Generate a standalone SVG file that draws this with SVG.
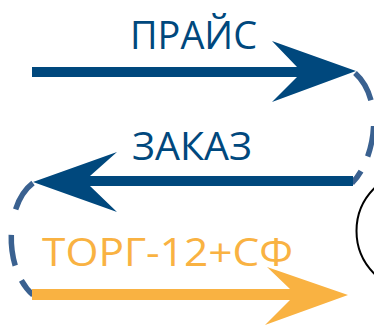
<svg xmlns="http://www.w3.org/2000/svg" width="374" height="327" viewBox="0 0 374 327">
<style>
.lbl{font-family:"Open Sans","Liberation Sans",sans-serif;font-size:39px}
.blue{fill:#00487D}
.orange{fill:#F9B242}
.dash{fill:none;stroke:#3A6190;stroke-width:5.5;stroke-dasharray:32 26 31 16 20}
</style>
<rect width="374" height="327" fill="#ffffff"/>
<g id="circle-node">
<circle cx="416.5" cy="231" r="60" fill="none" stroke="#000000" stroke-width="2"/>
</g>
<g id="labels">
<text id="t-price" class="lbl blue" x="130" y="49" textLength="127" lengthAdjust="spacingAndGlyphs">ПРАЙС</text>
<text id="t-order" class="lbl blue" x="132" y="160" textLength="120" lengthAdjust="spacingAndGlyphs">ЗАКАЗ</text>
<text id="t-torg" class="lbl orange" x="42" y="266" textLength="251" lengthAdjust="spacingAndGlyphs">ТОРГ-12+СФ</text>
</g>
<g id="connectors">
<path class="dash" d="M355,73 C385,100 375,160 352,183"/>
<path class="dash" d="M33,183 C4,205 4,270 33,295"/>
<polygon id="arrow-price" class="blue" points="32,67 297,67 272,41 356,71 272,102 297,77 32,77"/>
<polygon id="arrow-order" class="blue" points="353,176 90,176 117,152 33,182 117,212 90,186 353,186"/>
<polygon id="arrow-torg" class="orange" points="32,289 290,289 267,267 348,295 265,325 290,300 32,300"/>
</g>
</svg>
